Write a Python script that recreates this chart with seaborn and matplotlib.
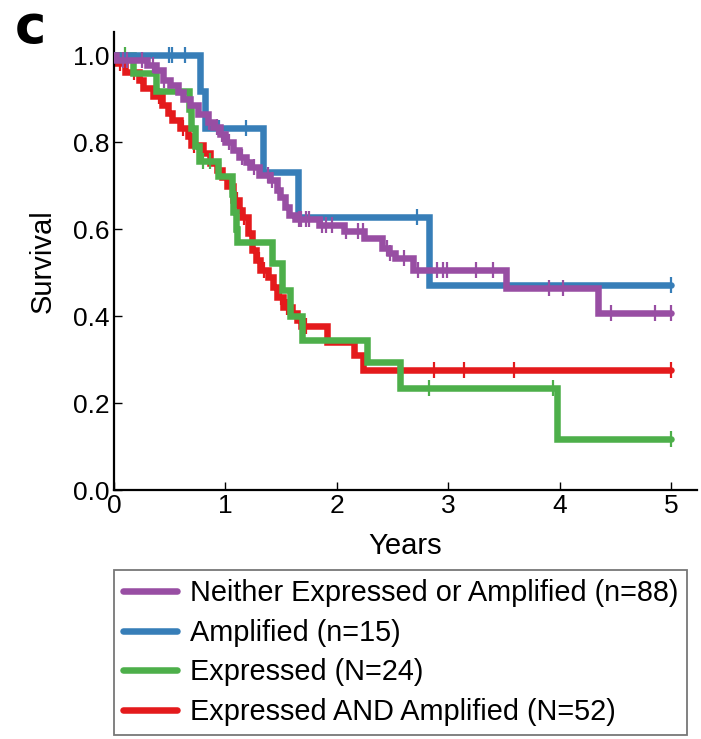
import numpy as np
import pandas as pd
import matplotlib
matplotlib.use("Agg")
import matplotlib.pyplot as plt
from matplotlib.lines import Line2D
import seaborn as sns

# ---------------- data ----------------
labels = ["Neither Expressed or Amplified (n=88)", "Amplified (n=15)",
          "Expressed (N=24)", "Expressed AND Amplified (N=52)"]
colors = ["#984ea3", "#377eb8", "#4daf4a", "#e41a1c"]

# step times (years) and survival after each step; first entry is t=0
neither_t = [0.0, 0.02, 0.30, 0.38, 0.44, 0.50, 0.57, 0.62, 0.68, 0.75, 0.84, 0.89,
             0.95, 1.00, 1.07, 1.12, 1.18, 1.22, 1.30, 1.40, 1.46, 1.49, 1.53, 1.57,
             1.62, 1.84, 2.06, 2.24, 2.40, 2.47, 2.52, 2.68, 3.52, 4.34, 5.0]
neither_s = [1.0, 0.989, 0.977, 0.966, 0.943, 0.932, 0.915, 0.900, 0.886, 0.864, 0.846, 0.834,
             0.818, 0.800, 0.782, 0.766, 0.755, 0.743, 0.725, 0.713, 0.690, 0.673, 0.650, 0.632,
             0.622, 0.610, 0.596, 0.579, 0.556, 0.545, 0.533, 0.506, 0.464, 0.407, 0.407]
neither_c = [0.08, 0.12, 0.25, 0.35, 0.45, 0.85, 0.92, 0.97, 1.03, 1.15, 1.26, 1.38, 1.42,
             1.66, 1.68, 1.72, 1.75, 1.87, 1.90, 1.96, 2.08, 2.19, 2.23, 2.45, 2.48, 2.60,
             2.73, 2.90, 2.95, 2.99, 3.25, 3.40, 3.90, 4.03, 4.46, 4.85, 5.0]

amp_t = [0.0, 0.77, 0.82, 1.34, 1.65, 2.83, 5.0]
amp_s = [1.0, 0.917, 0.833, 0.731, 0.628, 0.471, 0.471]
amp_c = [0.49, 0.52, 0.64, 0.94, 1.18, 2.72, 5.0]

expr_t = [0.0, 0.17, 0.38, 0.67, 0.69, 0.73, 0.76, 0.93, 1.06, 1.07, 1.09, 1.10,
          1.42, 1.51, 1.58, 1.69, 2.27, 2.57, 3.97, 5.0]
expr_s = [1.0, 0.958, 0.917, 0.875, 0.833, 0.792, 0.757, 0.722, 0.680, 0.640, 0.600, 0.570,
          0.522, 0.460, 0.400, 0.345, 0.295, 0.234, 0.117, 0.117]
expr_c = [0.10, 0.80, 0.86, 2.83, 3.94, 5.0]

both_t = [0.0, 0.03, 0.10, 0.22, 0.26, 0.35, 0.43, 0.48, 0.52, 0.59, 0.66, 0.69, 0.80,
          0.86, 0.92, 0.97, 1.01, 1.07, 1.12, 1.15, 1.20, 1.24, 1.27, 1.31, 1.38, 1.43,
          1.46, 1.52, 1.60, 1.64, 1.68, 1.91, 2.15, 2.23, 5.0]
both_s = [1.0, 0.981, 0.962, 0.943, 0.924, 0.905, 0.885, 0.866, 0.851, 0.832, 0.813, 0.794,
          0.775, 0.752, 0.735, 0.720, 0.700, 0.667, 0.644, 0.628, 0.590, 0.552, 0.529,
          0.506, 0.490, 0.467, 0.444, 0.421, 0.407, 0.390, 0.377, 0.340, 0.310, 0.276, 0.276]
both_c = [0.05, 0.18, 0.40, 0.62, 0.72, 0.95, 1.05, 1.10, 1.17, 1.30, 1.35, 1.50, 1.55,
          1.72, 2.87, 3.14, 3.59, 5.0]

x_ticks = [0, 1, 2, 3, 4, 5]
y_ticks = [0.0, 0.2, 0.4, 0.6, 0.8, 1.0]

series = [(neither_t, neither_s, neither_c), (amp_t, amp_s, amp_c),
          (expr_t, expr_s, expr_c), (both_t, both_s, both_c)]

# ---------------- figure ----------------
sns.set_style("ticks")
plt.rcParams["font.family"] = ["Liberation Sans", "DejaVu Sans"]
plt.rcParams["text.color"] = "black"

fig = plt.figure(figsize=(7.01, 7.39), dpi=100)
ax = fig.add_axes([114 / 701, 1 - 490 / 739, (697 - 114) / 701, (490 - 32) / 739])

draw_order = [3, 2, 1, 0]
for i in draw_order:
    t, s, c = series[i]
    df = pd.DataFrame({"t": t, "s": s})
    sns.lineplot(data=df, x="t", y="s", ax=ax, color=colors[i], lw=4.7,
                 drawstyle="steps-post", estimator=None, sort=False,
                 solid_joinstyle="miter", zorder=2 + draw_order.index(i))
    idx = np.searchsorted(np.array(t), np.array(c), side="right") - 1
    cdf = pd.DataFrame({"t": c, "s": np.array(s)[idx]})
    sns.scatterplot(data=cdf, x="t", y="s", ax=ax, marker="|", s=120,
                    color=colors[i], linewidth=1.6, zorder=2 + draw_order.index(i))

ax.set_xlim(0, 5.23)
ax.set_ylim(0, 1.053)
ax.set_xticks(x_ticks)
ax.set_xticklabels([str(v) for v in x_ticks])
ax.set_yticks(y_ticks)
ax.set_yticklabels([f"{v:.1f}" for v in y_ticks])
ax.tick_params(direction="in", length=6, width=1.0, labelsize=19, pad=3,
               colors="black", labelcolor="black")
for side in ["top", "right"]:
    ax.spines[side].set_visible(False)
for side in ["left", "bottom"]:
    ax.spines[side].set_linewidth(1.6)
    ax.spines[side].set_color("black")
ax.set_xlabel("Years", fontsize=21, labelpad=10, color="black")
ax.set_ylabel("Survival", fontsize=21, labelpad=12, color="black")

handles = [Line2D([], [], color=colors[i], lw=4.7) for i in range(4)]
leg = fig.legend(handles, labels, loc="upper left",
                 bbox_to_anchor=(114 / 701, 1 - 570 / 739), fontsize=20.8,
                 frameon=True, fancybox=False, edgecolor="#555555",
                 handlelength=1.85, handletextpad=0.45, borderpad=0.32,
                 labelspacing=0.40, borderaxespad=0.0)
leg.get_frame().set_linewidth(1.3)
for txt in leg.get_texts():
    txt.set_color("black")

fig.text(15 / 701, 1 - 43 / 739, "c", fontsize=38, fontweight="bold",
         family="DejaVu Sans", ha="left", va="baseline", color="black")

fig.savefig("out.png", dpi=100)
